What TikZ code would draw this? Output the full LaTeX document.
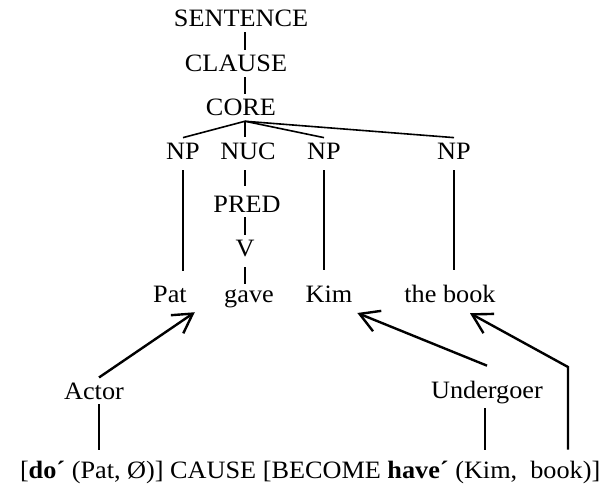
\documentclass[tikz,border=0pt]{standalone}
\usepackage{fontspec}
\setmainfont{Liberation Serif}[FakeStretch=1.05]
\usetikzlibrary{arrows.meta}

\begin{document}
\begin{tikzpicture}[
  x=1pt, y=-1pt,
  line width=1.6pt,
  font=\fontsize{25}{30}\selectfont,
  lbl/.style={inner sep=0pt, outer sep=5pt, anchor=base},
  link/.style={line width=2.4pt, -{Straight Barb[length=19pt,width=22pt]}},
]
\useasboundingbox (0,0) rectangle (603,487);
\coordinate (spine) at (245,0);
\coordinate (bend) at (568,367);

\node[lbl] (sentence) at (241,27) {SENTENCE};
\node[lbl] (clause) at (236,72) {CLAUSE};
\node[lbl] (core) at (241,116) {CORE};
\node[lbl] (np1) at (183,159) {NP};
\node[lbl] (nuc) at (248,159) {NUC};
\node[lbl] (np2) at (324,159) {NP};
\node[lbl] (np3) at (454,159) {NP};
\node[lbl] (pred) at (247,212) {PRED};
\node[lbl] (v) at (245,256) {V};
\node[lbl] (pat) at (170,302) {Pat};
\node[lbl] (gave) at (249,302) {gave};
\node[lbl] (kim) at (329,302) {Kim};
\node[lbl] (book) at (450,302) {the book};
\node[lbl] (actor) at (94,399) {Actor};
\node[lbl] (under) at (487,398) {Undergoer};
\node[lbl, anchor=base west] (formula) at (15,478)
  {[\textbf{do´} (Pat, Ø)] CAUSE [BECOME \textbf{have´} (Kim,\ \ book)]};

\draw (sentence.south -| spine) -- (clause.north -| spine);
\draw (clause.south -| spine) -- (core.north -| spine);
\foreach \n in {np1,np2,np3}
  \draw (core.south -| spine) -- (\n.north);
\draw (core.south -| spine) -- (nuc.north -| spine);
\draw[shorten <=6pt, shorten >=5pt] (nuc.south -| spine) -- (pred.north -| spine);
\draw (pred.south -| spine) -- (v.north -| spine);
\draw[shorten <=6pt] (v.south -| spine) -- (gave.north -| spine);
\draw[shorten <=6pt, shorten >=10pt] (np1.south) -- (np1.south |- pat.north);
\draw[shorten <=6pt, shorten >=10pt] (np2.south) -- (np2.south |- kim.north);
\draw[shorten <=6pt, shorten >=10pt] (np3.south) -- (np3.south |- book.north);

\draw[link] ([xshift=5pt]actor.north) -- ([xshift=3pt,yshift=-5pt]pat.south east);
\draw[link] ([yshift=10pt]under.north) -- ([yshift=-6pt]kim.south east);
\draw[link, shorten <=6pt] (formula.north -| bend) -- (bend) -- ([xshift=20pt,yshift=-6pt]book.south);
\draw[shorten >=6pt] ([xshift=5pt]actor.south) -- ([xshift=5pt]actor.south |- formula.north);
\draw[shorten >=6pt] ([xshift=-2pt]under.south) -- ([xshift=-2pt]under.south |- formula.north);
\end{tikzpicture}
\end{document}
